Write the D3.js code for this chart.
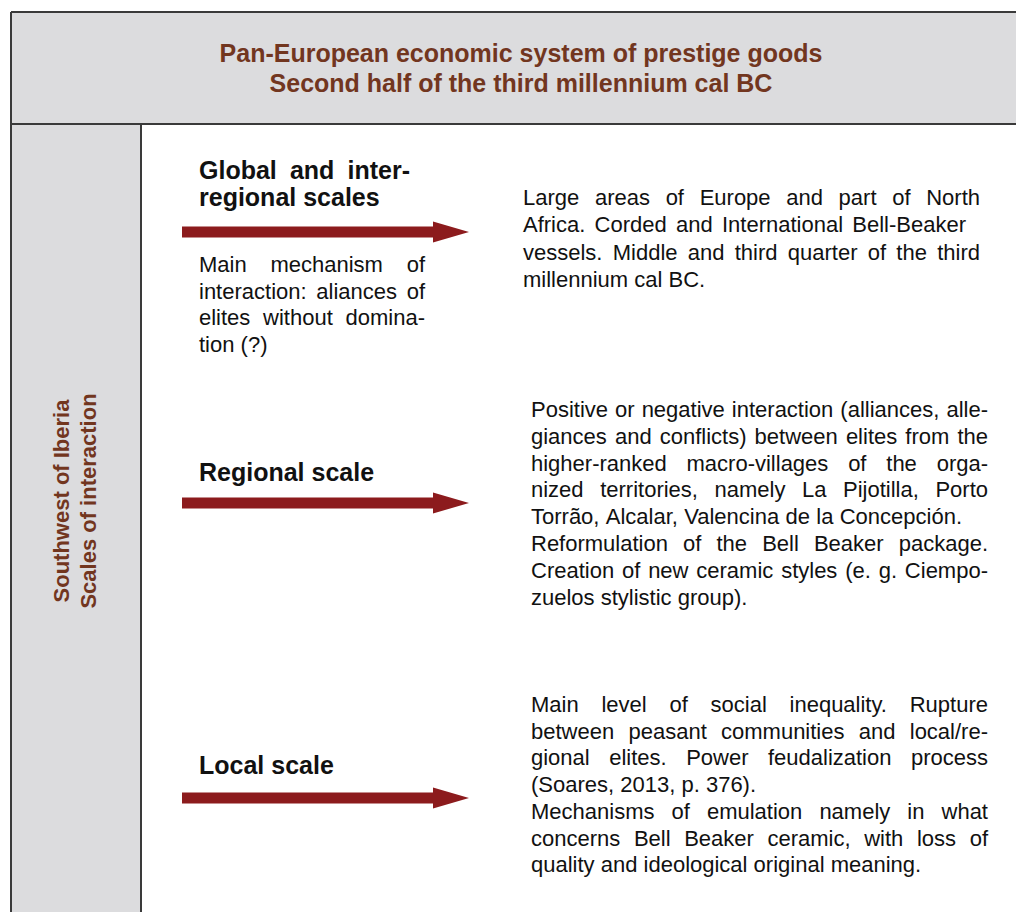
<!DOCTYPE html>
<html>
<head>
<meta charset="utf-8">
<script src="https://cdn.jsdelivr.net/npm/d3@7"></script>
<style>
  html, body { margin: 0; padding: 0; background: #fff; }
  svg { display: block; }
</style>
</head>
<body>
<svg id="chart" width="1016" height="912"></svg>
<script>
// ---------- content ----------
const titleLines = [
  "Pan-European economic system of prestige goods",
  "Second half of the third millennium cal BC"
];
const sideLabels = ["Southwest of Iberia", "Scales of interaction"];

const scaleNames = ["global", "regional", "local"];
const scaleHeadings = [
  ["Global and inter-", "regional scales"],
  ["Regional scale"],
  ["Local scale"]
];
// true = justify to block width, number = justify to that right edge, false = natural spacing
const headingJustify = [[true, false], [false], [false]];

const globalNote = [
  "Main mechanism of",
  "interaction: aliances of",
  "elites without domina-",
  "tion (?)"
];
const globalNoteJustify = [true, true, true, false];

const descriptions = [
  [
    "Large areas of Europe and part of North",
    "Africa. Corded and International Bell-Beaker",
    "vessels. Middle and third quarter of the third",
    "millennium cal BC."
  ],
  [
    "Positive or negative interaction (alliances, alle-",
    "giances and conflicts) between elites from the",
    "higher-ranked  macro-villages of the orga-",
    "nized territories, namely  La Pijotilla, Porto",
    "Torrão, Alcalar, Valencina de la Concepción.",
    "Reformulation of the Bell Beaker package.",
    "Creation of new ceramic styles (e. g. Ciempo-",
    "zuelos stylistic group)."
  ],
  [
    "Main level of social inequality. Rupture",
    "between peasant communities and local/re-",
    "gional elites. Power feudalization process",
    "(Soares, 2013, p. 376).",
    "Mechanisms of emulation namely in what",
    "concerns Bell Beaker ceramic, with loss of",
    "quality and ideological original meaning."
  ]
];
const descJustify = [
  [true, 966, true, false],
  [true, true, true, true, 962, true, true, false],
  [true, true, true, false, true, true, false]
];

// ---------- layout ----------
const W = 1016, H = 912;
const svg = d3.select("#chart");
const FONT = "'Liberation Sans', Arial, Helvetica, sans-serif";
const BROWN = "#72361f";
const RED = "#8c1b1d";
const GRAY = "#dcdcde";
const LINE = "#3a3a3a";

// row anchors (arrow centre lines)
const rowY = d3.scaleOrdinal().domain(scaleNames).range([232, 503, 798]);
const headY = d3.scaleOrdinal().domain(scaleNames).range([179, 481, 774]);
const descY = d3.scaleOrdinal().domain(scaleNames).range([205, 417, 712]);
const descLead = d3.scaleOrdinal().domain(scaleNames).range([27.3, 26.8, 26.7]);
const descX = d3.scaleOrdinal().domain(scaleNames).range([[523, 980], [531, 988], [531, 988]]);

// frame
const frameLeft = 11, frameTop = 12, headBottom = 124, colRight = 141;
svg.append("rect").attr("x", frameLeft).attr("y", frameTop).attr("width", W - frameLeft + 5).attr("height", headBottom - frameTop)
  .attr("fill", GRAY);
svg.append("rect").attr("x", frameLeft).attr("y", headBottom).attr("width", colRight - frameLeft).attr("height", H - headBottom + 5)
  .attr("fill", GRAY);
const frame = svg.append("g").attr("stroke", LINE).attr("stroke-width", 2).attr("fill", "none");
frame.append("line").attr("x1", frameLeft).attr("x2", W + 2).attr("y1", frameTop).attr("y2", frameTop);
frame.append("line").attr("x1", frameLeft).attr("x2", W + 2).attr("y1", headBottom).attr("y2", headBottom);
frame.append("line").attr("x1", frameLeft).attr("x2", frameLeft).attr("y1", frameTop).attr("y2", H + 2);
frame.append("line").attr("x1", colRight).attr("x2", colRight).attr("y1", headBottom).attr("y2", H + 2);

// title
svg.append("g").selectAll("text").data(titleLines).join("text")
  .attr("x", 521).attr("y", (d, i) => 62 + i * 30)
  .attr("text-anchor", "middle")
  .attr("font-family", FONT).attr("font-weight", "bold").attr("font-size", 25)
  .attr("fill", BROWN).text(d => d);

// side labels (rotated)
svg.append("g").selectAll("text").data(sideLabels).join("text")
  .attr("transform", (d, i) => `translate(${69 + i * 27},501) rotate(-90)`)
  .attr("text-anchor", "middle")
  .attr("font-family", FONT).attr("font-weight", "bold").attr("font-size", 22)
  .attr("fill", BROWN).text(d => d);

// justified text helper
function textBlock(g, lines, flags, x0, x1, y0, lead, size, weight) {
  lines.forEach((line, i) => {
    const words = line.split(/\s+/).filter(w => w.length);
    const y = y0 + i * lead;
    const tg = g.append("g");
    const nodes = words.map(w => tg.append("text")
      .attr("y", y)
      .attr("font-family", FONT).attr("font-size", size).attr("font-weight", weight)
      .attr("fill", "#111").text(w));
    const widths = nodes.map(n => n.node().getComputedTextLength());
    const probe = tg.append("text").attr("font-family", FONT).attr("font-size", size)
      .attr("font-weight", weight).text("a a");
    const probe2 = tg.append("text").attr("font-family", FONT).attr("font-size", size)
      .attr("font-weight", weight).text("aa");
    const spaceW = probe.node().getComputedTextLength() - probe2.node().getComputedTextLength();
    probe.remove(); probe2.remove();
    const total = d3.sum(widths);
    let gap = spaceW;
    const f = flags[i];
    if (f && words.length > 1) {
      const right = (typeof f === "number") ? f : x1;
      gap = Math.max(spaceW, (right - x0 - total) / (words.length - 1));
    }
    let x = x0;
    nodes.forEach((n, j) => { n.attr("x", x); x += widths[j] + gap; });
  });
}

// arrows
const arrowX = d3.scaleLinear().domain([0, 1]).range([182, 469]);
const arrowPath = y => {
  const x0 = arrowX(0), x1 = arrowX(1), hb = 433, sh = 5.5, hh = 10.5;
  return `M${x0},${y - sh}L${hb},${y - sh}L${hb},${y - hh}L${x1},${y}L${hb},${y + hh}L${hb},${y + sh}L${x0},${y + sh}Z`;
};
svg.append("g").selectAll("path").data(scaleNames).join("path")
  .attr("d", d => arrowPath(rowY(d)))
  .attr("fill", RED);

// headings
scaleNames.forEach((name, k) => {
  const g = svg.append("g");
  textBlock(g, scaleHeadings[k], headingJustify[k], 199, 410, headY(name), 27, 25, "bold");
});

// global note under the first arrow
textBlock(svg.append("g"), globalNote, globalNoteJustify, 199, 425, 272, 26.7, 22, "normal");

// descriptions
scaleNames.forEach((name, k) => {
  const [x0, x1] = descX(name);
  textBlock(svg.append("g"), descriptions[k], descJustify[k], x0, x1, descY(name), descLead(name), 22, "normal");
});
</script>
</body>
</html>
